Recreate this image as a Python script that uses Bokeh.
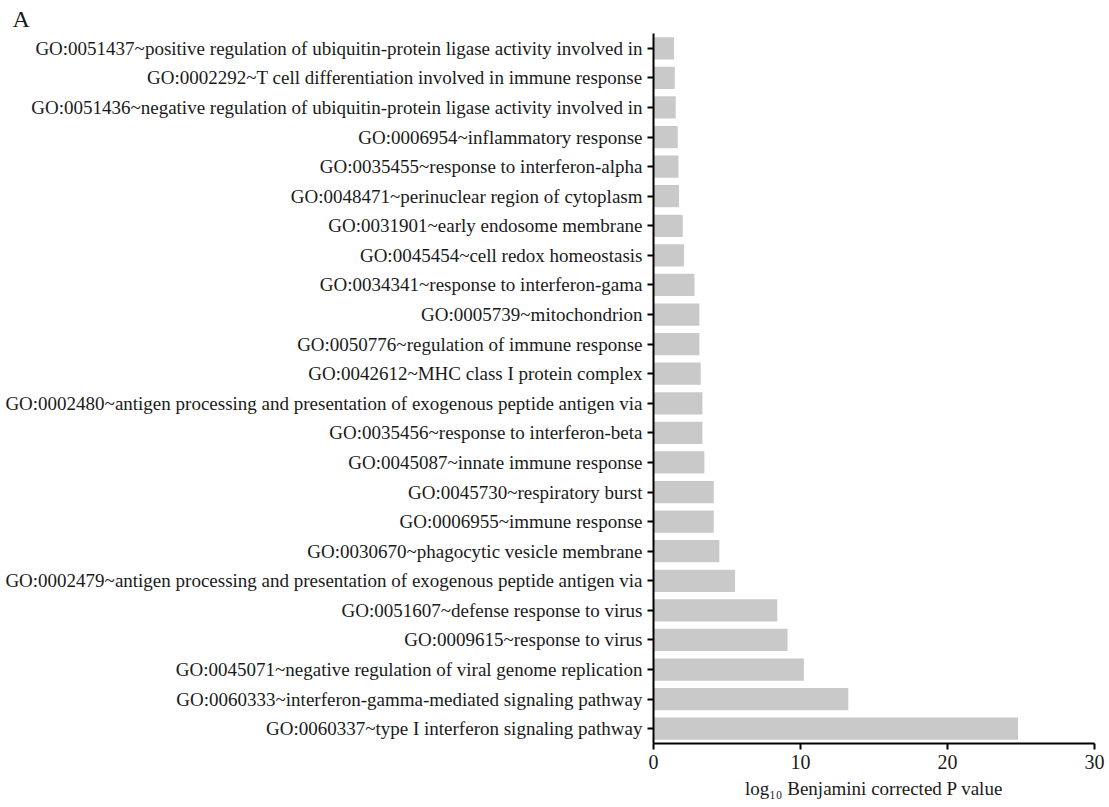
from bokeh.plotting import figure
from bokeh.models import FactorRange, Range1d, FixedTicker
from bokeh.embed import file_html
from bokeh.resources import INLINE

terms = [
    "GO:0051437~positive regulation of ubiquitin-protein ligase activity involved in",
    "GO:0002292~T cell differentiation involved in immune response",
    "GO:0051436~negative regulation of ubiquitin-protein ligase activity involved in",
    "GO:0006954~inflammatory response",
    "GO:0035455~response to interferon-alpha",
    "GO:0048471~perinuclear region of cytoplasm",
    "GO:0031901~early endosome membrane",
    "GO:0045454~cell redox homeostasis",
    "GO:0034341~response to interferon-gama",
    "GO:0005739~mitochondrion",
    "GO:0050776~regulation of immune response",
    "GO:0042612~MHC class I protein complex",
    "GO:0002480~antigen processing and presentation of exogenous peptide antigen via",
    "GO:0035456~response to interferon-beta",
    "GO:0045087~innate immune response",
    "GO:0045730~respiratory burst",
    "GO:0006955~immune response",
    "GO:0030670~phagocytic vesicle membrane",
    "GO:0002479~antigen processing and presentation of exogenous peptide antigen via",
    "GO:0051607~defense response to virus",
    "GO:0009615~response to virus",
    "GO:0045071~negative regulation of viral genome replication",
    "GO:0060333~interferon-gamma-mediated signaling pathway",
    "GO:0060337~type I interferon signaling pathway",
]
values = [1.40, 1.45, 1.51, 1.65, 1.70, 1.74, 1.99, 2.08, 2.79, 3.12, 3.12, 3.21,
          3.33, 3.33, 3.46, 4.10, 4.10, 4.48, 5.55, 8.42, 9.12, 10.23, 13.25, 24.8]
x_ticks = [0, 10, 20, 30]
panel_letter = "A"
x_label = "log\u2081\u2080 Benjamini corrected P value"

FONT = "Liberation Serif"
TXT = "#1a1a1a"
W, H = 1106, 806
LEFT, RIGHT = 653, 12

factors = list(reversed(terms))
p = figure(width=W, height=H, y_range=FactorRange(factors=factors),
           x_range=Range1d(0, 30), output_backend="svg", toolbar_location=None,
           min_border_left=LEFT, min_border_top=33, min_border_right=RIGHT,
           min_border_bottom=63, title=panel_letter)
p.hbar(y=terms, right=values, left=0, height=0.75, fill_color="#c9c9c9",
       line_color=None)
p.xgrid.visible = False
p.ygrid.visible = False
p.outline_line_color = None

# panel letter as the title, shifted to the far left
p.title.align = "left"
p.title.offset = -641
p.title.standoff = 4
p.title.text_font = FONT
p.title.text_font_size = "24px"
p.title.text_font_style = "normal"
p.title.text_color = TXT

for ax in (p.xaxis[0], p.yaxis[0]):
    ax.axis_line_width = 2
    ax.axis_line_color = "black"
    ax.major_tick_line_width = 2
    ax.major_tick_line_color = "black"
    ax.major_tick_in = 0
    ax.major_tick_out = 6
    ax.minor_tick_line_color = None
    ax.major_label_text_font = FONT
    ax.major_label_text_color = TXT

p.yaxis.major_label_text_font_size = "19px"
p.yaxis.major_label_standoff = 5
p.xaxis.ticker = FixedTicker(ticks=x_ticks)
p.xaxis.major_label_text_font_size = "20px"
p.xaxis.major_label_standoff = 5
p.xaxis.axis_label = x_label
p.xaxis.axis_label_text_font = FONT
p.xaxis.axis_label_text_font_size = "19px"
p.xaxis.axis_label_text_font_style = "normal"
p.xaxis.axis_label_text_color = TXT
p.xaxis.axis_label_standoff = 6

open("out.html", "w").write(file_html(p, INLINE))
